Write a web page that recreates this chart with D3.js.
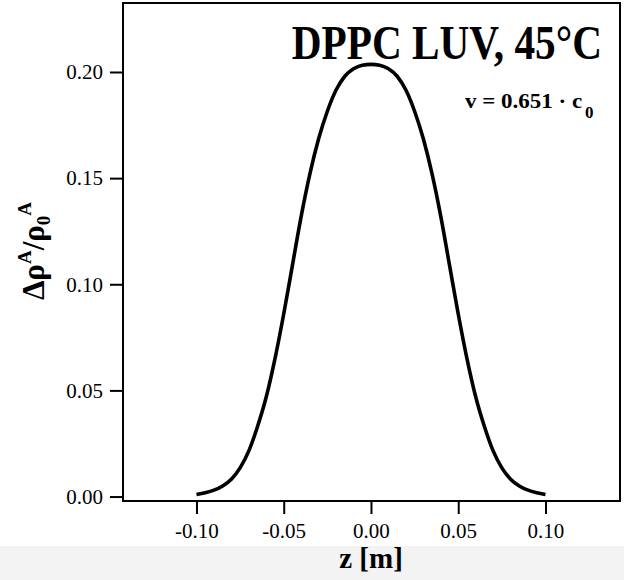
<!DOCTYPE html>
<html>
<head>
<meta charset="utf-8">
<script src="https://cdn.jsdelivr.net/npm/d3@7"></script>
<style>
  html, body { margin: 0; padding: 0; background: #ffffff; }
  svg { display: block; }
  text { font-family: "Liberation Serif", "Times New Roman", serif; fill: #000; }
</style>
</head>
<body>
<svg id="chart" width="624" height="580"></svg>
<script>
// ---- data ----
const zValues = [-0.100, -0.095, -0.090, -0.085, -0.080, -0.075, -0.070, -0.065, -0.060, -0.055,
                 -0.050, -0.045, -0.040, -0.035, -0.030, -0.025, -0.020, -0.015, -0.010, -0.005,
                  0.000,  0.005,  0.010,  0.015,  0.020,  0.025,  0.030,  0.035,  0.040,  0.045,
                  0.050,  0.055,  0.060,  0.065,  0.070,  0.075,  0.080,  0.085,  0.090,  0.095, 0.100];
const rhoValues = [0.0010, 0.0018, 0.0030, 0.0050, 0.0082, 0.0135, 0.0215, 0.0330, 0.0470, 0.0650,
                   0.0860, 0.1090, 0.1320, 0.1520, 0.1685, 0.1815, 0.1915, 0.1980, 0.2015, 0.2032,
                   0.2036, 0.2032, 0.2015, 0.1980, 0.1915, 0.1815, 0.1685, 0.1520, 0.1320, 0.1090,
                   0.0860, 0.0650, 0.0470, 0.0330, 0.0215, 0.0135, 0.0082, 0.0050, 0.0030, 0.0018, 0.0010];
const xTicks = [-0.10, -0.05, 0.00, 0.05, 0.10];
const xTickLabels = ["-0.10", "-0.05", "0.00", "0.05", "0.10"];
const yTicks = [0.00, 0.05, 0.10, 0.15, 0.20];
const yTickLabels = ["0.00", "0.05", "0.10", "0.15", "0.20"];
const titleText = "DPPC LUV, 45°C";
const xLabel = "z [m]";

// ---- layout ----
const svg = d3.select("#chart");
const L = 123, R = 620, T = 3, B = 501;

svg.append("rect").attr("x", 0).attr("y", 546).attr("width", 624).attr("height", 34).attr("fill", "#f3f3f3");

const x = d3.scaleLinear().domain([-0.1421, 0.1427]).range([L, R]);
const y = d3.scaleLinear().domain([-0.0021, 0.2325]).range([B, T]);

// axes
const xAxis = d3.axisBottom(x).tickValues(xTicks)
  .tickFormat((d, i) => xTickLabels[i]).tickSize(13).tickPadding(9);
const gx = svg.append("g").attr("transform", `translate(0,${B})`).call(xAxis);
gx.select(".domain").remove();
gx.selectAll(".tick line").attr("stroke", "#000").attr("stroke-width", 2);
gx.selectAll(".tick text").attr("font-size", 21).attr("font-family", "Liberation Serif").attr("fill", "#000");

const yAxis = d3.axisLeft(y).tickValues(yTicks)
  .tickFormat((d, i) => yTickLabels[i]).tickSize(13).tickPadding(7);
const gy = svg.append("g").attr("transform", `translate(${L},0)`).call(yAxis);
gy.select(".domain").remove();
gy.selectAll(".tick line").attr("stroke", "#000").attr("stroke-width", 2);
gy.selectAll(".tick text").attr("font-size", 21).attr("font-family", "Liberation Serif").attr("fill", "#000");

// frame
svg.append("rect").attr("x", L).attr("y", T).attr("width", R - L).attr("height", B - T)
  .attr("fill", "none").attr("stroke", "#000").attr("stroke-width", 2);

// curve
const pts = zValues.map((z, i) => [z, rhoValues[i]]);
const line = d3.line().x(d => x(d[0])).y(d => y(d[1])).curve(d3.curveMonotoneX);
svg.append("path").datum(pts).attr("d", line)
  .attr("fill", "none").attr("stroke", "#000").attr("stroke-width", 3.6)
  .attr("stroke-linejoin", "round");

// title (horizontally condensed like the reference)
svg.append("text").attr("transform", "translate(602,59) scale(0.86,1)")
  .attr("text-anchor", "end")
  .attr("font-size", 48).attr("font-weight", "bold")
  .text(titleText);

// velocity annotation
svg.append("text").attr("transform", "translate(465,108) scale(1.15,1)")
  .attr("font-size", 20).attr("font-weight", "bold")
  .text("v = 0.651 · c");
svg.append("text").attr("x", 585).attr("y", 118)
  .attr("font-size", 17).attr("font-weight", "bold")
  .text("0");

// x label
svg.append("text").attr("x", 371).attr("y", 568).attr("text-anchor", "middle")
  .attr("font-size", 29).attr("font-weight", "bold").text(xLabel);

// y label
const yl = svg.append("text")
  .attr("transform", "translate(44,251) rotate(-90)")
  .attr("text-anchor", "middle")
  .attr("font-size", 31).attr("font-weight", "bold");
yl.append("tspan").text("Δρ");
yl.append("tspan").attr("font-size", 19).attr("dy", -13).text("A");
yl.append("tspan").attr("dy", 13).text("/ρ");
yl.append("tspan").attr("font-size", 19).attr("dy", 6).text("0");
yl.append("tspan").attr("font-size", 19).attr("dy", -19).text("A");
</script>
</body>
</html>
